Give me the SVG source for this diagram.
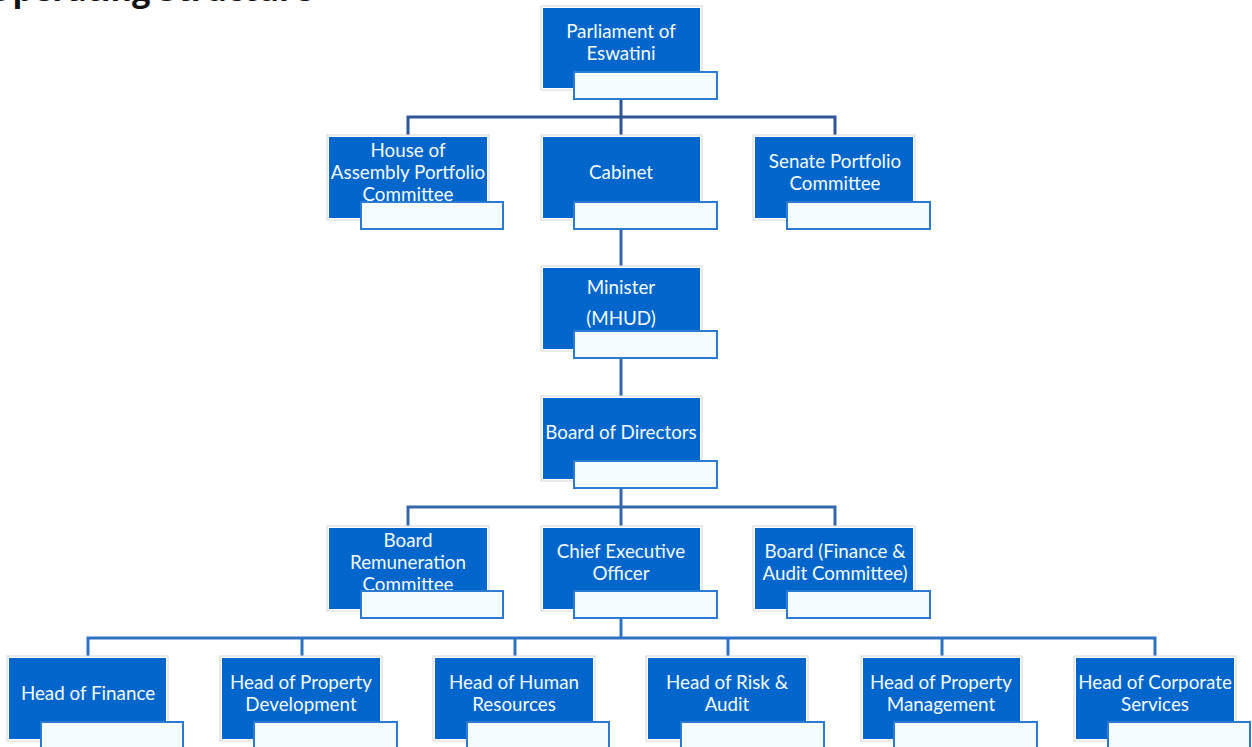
<svg xmlns="http://www.w3.org/2000/svg" width="1252" height="747" viewBox="0 0 1252 747">
<style>
.frame{fill:#ffffff;stroke:#d6d6d6;stroke-width:1}
.box{fill:#0066cc}
.lbl{fill:#f5fcff;stroke:#2b7bd3;stroke-width:2}
.t{font-family:Lato,"Open Sans","Liberation Sans",sans-serif;font-size:18.8px;fill:#f4fbff;text-anchor:middle}
.title{font-family:"Open Sans","Liberation Sans",sans-serif;font-size:32.5px;font-weight:bold;fill:#111;text-anchor:end}
.c1{fill:none;stroke:#2f5597;stroke-width:3}
.c2{fill:none;stroke:#3568aa;stroke-width:3}
.c3{fill:none;stroke:#2e72c4;stroke-width:3}
</style>
<defs>
<clipPath id="clipHouse"><rect x="329" y="137" width="158" height="81"/></clipPath>
<clipPath id="clipCorp"><rect x="1076" y="658" width="158" height="81"/></clipPath>
</defs>
<rect width="1252" height="747" fill="#ffffff"/>
<text class="title" x="313" y="1">Operating Structure</text>

<g id="connectors">
<path class="c1" d="M621 99V137M408 137V117H835V137"/>
<path class="c2" d="M621 229V268"/>
<path class="c2" d="M621 358V398"/>
<path class="c2" d="M621 488V528M408 528V507H835V528"/>
<path class="c3" d="M621 619V638M88 658V638H1155V658M302 638V658M515 638V658M728 638V658M942 638V658"/>
</g>

<g id="parliament">
<rect class="frame" x="541" y="6" width="161" height="84"/>
<rect class="box" x="543" y="8" width="157" height="80"/>
<text class="t" x="621" y="38">Parliament of</text>
<text class="t" x="621" y="60">Eswatini</text>
<rect class="lbl" x="574" y="72" width="143" height="27"/>
</g>

<g id="house">
<rect class="frame" x="327" y="135" width="162" height="85"/>
<rect class="box" x="329" y="137" width="158" height="81"/>
<g clip-path="url(#clipHouse)">
<text class="t" x="408" y="157">House of</text>
<text class="t" x="408" y="179">Assembly Portfolio</text>
<text class="t" x="408" y="201">Committee</text>
</g>
<rect class="lbl" x="361" y="202" width="142" height="27"/>
</g>

<g id="cabinet">
<rect class="frame" x="541" y="135" width="161" height="85"/>
<rect class="box" x="543" y="137" width="157" height="81"/>
<text class="t" x="621" y="179">Cabinet</text>
<rect class="lbl" x="574" y="202" width="143" height="27"/>
</g>

<g id="senate">
<rect class="frame" x="753" y="135" width="162" height="85"/>
<rect class="box" x="755" y="137" width="158" height="81"/>
<text class="t" x="835" y="168">Senate Portfolio</text>
<text class="t" x="835" y="190">Committee</text>
<rect class="lbl" x="787" y="202" width="143" height="27"/>
</g>

<g id="minister">
<rect class="frame" x="541" y="266" width="161" height="85"/>
<rect class="box" x="543" y="268" width="157" height="81"/>
<text class="t" x="621" y="294">Minister</text>
<text class="t" x="621" y="325">(MHUD)</text>
<rect class="lbl" x="574" y="331" width="143" height="27"/>
</g>

<g id="board">
<rect class="frame" x="541" y="396" width="161" height="85"/>
<rect class="box" x="543" y="398" width="157" height="81"/>
<text class="t" x="621" y="439">Board of Directors</text>
<rect class="lbl" x="574" y="461" width="143" height="27"/>
</g>

<g id="remuneration">
<rect class="frame" x="327" y="526" width="162" height="85"/>
<rect class="box" x="329" y="528" width="158" height="81"/>
<text class="t" x="408" y="547">Board</text>
<text class="t" x="408" y="569">Remuneration</text>
<text class="t" x="408" y="591">Committee</text>
<rect class="lbl" x="361" y="591" width="142" height="27"/>
</g>

<g id="ceo">
<rect class="frame" x="541" y="526" width="161" height="85"/>
<rect class="box" x="543" y="528" width="157" height="81"/>
<text class="t" x="621" y="558">Chief Executive</text>
<text class="t" x="621" y="580">Officer</text>
<rect class="lbl" x="574" y="591" width="143" height="27"/>
</g>

<g id="finance-audit">
<rect class="frame" x="753" y="526" width="162" height="85"/>
<rect class="box" x="755" y="528" width="158" height="81"/>
<text class="t" x="835" y="558">Board (Finance &amp;</text>
<text class="t" x="835" y="580">Audit Committee)</text>
<rect class="lbl" x="787" y="591" width="143" height="27"/>
</g>

<g id="head-finance">
<rect class="frame" x="7" y="656" width="161" height="85"/>
<rect class="box" x="9" y="658" width="157" height="81"/>
<text class="t" x="88" y="700">Head of Finance</text>
<rect class="lbl" x="41" y="722" width="142" height="28"/>
</g>

<g id="head-property-dev">
<rect class="frame" x="220" y="656" width="162" height="85"/>
<rect class="box" x="222" y="658" width="158" height="81"/>
<text class="t" x="301" y="689">Head of Property</text>
<text class="t" x="301" y="711">Development</text>
<rect class="lbl" x="254" y="722" width="143" height="28"/>
</g>

<g id="head-hr">
<rect class="frame" x="433" y="656" width="162" height="85"/>
<rect class="box" x="435" y="658" width="158" height="81"/>
<text class="t" x="514" y="689">Head of Human</text>
<text class="t" x="514" y="711">Resources</text>
<rect class="lbl" x="467" y="722" width="142" height="28"/>
</g>

<g id="head-risk">
<rect class="frame" x="646" y="656" width="162" height="85"/>
<rect class="box" x="648" y="658" width="158" height="81"/>
<text class="t" x="727" y="689">Head of Risk &amp;</text>
<text class="t" x="727" y="711">Audit</text>
<rect class="lbl" x="681" y="722" width="143" height="28"/>
</g>

<g id="head-property-mgmt">
<rect class="frame" x="861" y="656" width="161" height="85"/>
<rect class="box" x="863" y="658" width="157" height="81"/>
<text class="t" x="941" y="689">Head of Property</text>
<text class="t" x="941" y="711">Management</text>
<rect class="lbl" x="894" y="722" width="143" height="28"/>
</g>

<g id="head-corporate">
<rect class="frame" x="1074" y="656" width="162" height="85"/>
<rect class="box" x="1076" y="658" width="158" height="81"/>
<g clip-path="url(#clipCorp)">
<text class="t" x="1155" y="689">Head of Corporate</text>
<text class="t" x="1155" y="711">Services</text>
</g>
<rect class="lbl" x="1108" y="722" width="142" height="28"/>
</g>
</svg>
